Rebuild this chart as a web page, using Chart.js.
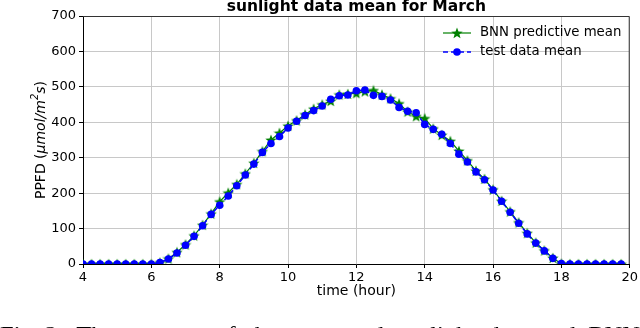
<!DOCTYPE html>
<html>
<head>
<meta charset="utf-8">
<script src="https://cdn.jsdelivr.net/npm/chart.js@4/dist/chart.umd.min.js"></script>
<style>
  html, body { margin: 0; padding: 0; background: #fff; }
  #wrap { width: 640px; height: 328px; position: relative; }
</style>
</head>
<body>
<div id="wrap"><canvas id="canvas" width="640" height="328"></canvas></div>
<script>
// time of day in hours, one sample every 15 minutes
const hours = [
  4.0, 4.25, 4.5, 4.75, 5.0, 5.25, 5.5, 5.75,
  6.0, 6.25, 6.5, 6.75, 7.0, 7.25, 7.5, 7.75,
  8.0, 8.25, 8.5, 8.75, 9.0, 9.25, 9.5, 9.75,
  10.0, 10.25, 10.5, 10.75, 11.0, 11.25, 11.5, 11.75,
  12.0, 12.25, 12.5, 12.75, 13.0, 13.25, 13.5, 13.75,
  14.0, 14.25, 14.5, 14.75, 15.0, 15.25, 15.5, 15.75,
  16.0, 16.25, 16.5, 16.75, 17.0, 17.25, 17.5, 17.75,
  18.0, 18.25, 18.5, 18.75, 19.0, 19.25, 19.5, 19.75
];

const bnnMean = [
  0, 0, 0, 0, 0, 0, 0, 0,
  0, 4, 15, 33, 55, 80, 110, 142,
  176, 201, 225, 255, 285, 318, 350, 370,
  390, 405, 422, 438, 450, 460, 478, 480,
  482, 487, 490, 478, 467, 453, 430, 417,
  411, 382, 364, 347, 319, 292, 263, 240,
  210, 178, 148, 117, 87, 60, 38, 17,
  1, 0, 0, 0, 0, 0, 0, 0
];

const testMean = [
  0, 0, 0, 0, 0, 0, 0, 0,
  0, 4, 14, 31, 53, 78, 108, 140,
  166, 192, 221, 251, 282, 315, 340, 360,
  384, 403, 419, 433, 446, 465, 475, 477,
  489, 491, 476, 473, 463, 442, 431, 427,
  394, 380, 366, 340, 310, 288, 260, 238,
  209, 177, 146, 115, 85, 59, 37, 16,
  1, 0, 0, 0, 0, 0, 0, 0
];

const xTicks = [4, 6, 8, 10, 12, 14, 16, 18, 20];
const yTicks = [0, 100, 200, 300, 400, 500, 600, 700];

const FONT = "'DejaVu Sans', sans-serif";
const GREEN = '#008000';
const BLUE = '#0000ff';

// filled five point star like matplotlib's '*' marker
function makeStar(size, color) {
  const c = document.createElement('canvas');
  c.width = size; c.height = size;
  const g = c.getContext('2d');
  const cx = size / 2, cy = size / 2 + 0.5;
  const R = size / 2, r = R * 0.42;
  g.beginPath();
  for (let i = 0; i < 10; i++) {
    const rad = i % 2 === 0 ? R : r;
    const a = -Math.PI / 2 + i * Math.PI / 5;
    const px = cx + rad * Math.cos(a), py = cy + rad * Math.sin(a);
    if (i === 0) g.moveTo(px, py); else g.lineTo(px, py);
  }
  g.closePath();
  g.fillStyle = color;
  g.fill();
  return c;
}
const star = makeStar(12, GREEN);

const toPoints = (vals) => vals.map((v, i) => ({ x: hours[i], y: v }));

const extras = {
  id: 'extras',
  afterDraw(chart) {
    const ctx = chart.ctx;
    const a = chart.chartArea;
    const mid = (a.left + a.right) / 2;
    ctx.save();

    // top / right frame
    ctx.strokeStyle = '#333';
    ctx.lineWidth = 1;
    ctx.beginPath();
    ctx.moveTo(a.left, a.top + 0.5);
    ctx.lineTo(a.right - 0.5, a.top + 0.5);
    ctx.lineTo(a.right - 0.5, a.bottom);
    ctx.stroke();

    // title
    ctx.fillStyle = '#000';
    ctx.font = "bold 15.5px " + FONT;
    ctx.textAlign = 'center';
    ctx.textBaseline = 'alphabetic';
    ctx.fillText('sunlight data mean for March', mid, 11);

    // x axis title
    ctx.font = "14px " + FONT;
    ctx.textBaseline = 'middle';
    ctx.fillText('time (hour)', mid, 291);

    // y axis title with italic unit and superscript
    ctx.save();
    ctx.translate(41, (a.top + a.bottom) / 2);
    ctx.rotate(-Math.PI / 2);
    const parts = [
      { t: 'PPFD (', f: "14px " + FONT, dy: 0 },
      { t: 'μmol/m', f: "italic 14px " + FONT, dy: 0 },
      { t: '2', f: "italic 10px " + FONT, dy: -6 },
      { t: 's', f: "italic 14px " + FONT, dy: 0 },
      { t: ')', f: "14px " + FONT, dy: 0 }
    ];
    let total = 0;
    parts.forEach(p => { ctx.font = p.f; p.w = ctx.measureText(p.t).width; total += p.w; });
    let px = -total / 2;
    ctx.textAlign = 'left';
    ctx.textBaseline = 'middle';
    parts.forEach(p => { ctx.font = p.f; ctx.fillText(p.t, px, p.dy); px += p.w; });
    ctx.restore();

    // legend in upper right
    const rows = [
      { ds: chart.data.datasets[0], y: 33 },
      { ds: chart.data.datasets[1], y: 52 }
    ];
    rows.forEach(r => {
      ctx.strokeStyle = r.ds.borderColor;
      ctx.lineWidth = r.ds.borderWidth;
      ctx.setLineDash(r.ds.borderDash || []);
      ctx.beginPath();
      ctx.moveTo(443, r.y);
      ctx.lineTo(471, r.y);
      ctx.stroke();
      ctx.setLineDash([]);
      if (r.ds.pointStyle === 'circle') {
        ctx.fillStyle = r.ds.pointBackgroundColor;
        ctx.beginPath();
        ctx.arc(457, r.y, 3.8, 0, Math.PI * 2);
        ctx.fill();
      } else {
        ctx.drawImage(r.ds.pointStyle, 457 - 6, r.y - 6);
      }
      ctx.fillStyle = '#000';
      ctx.font = "13.3px " + FONT;
      ctx.textAlign = 'left';
      ctx.textBaseline = 'middle';
      ctx.fillText(r.ds.label, 480, r.y);
    });

    // figure caption, cut by the bottom edge
    ctx.font = "20px 'Liberation Serif', serif";
    ctx.textAlign = 'left';
    ctx.textBaseline = 'alphabetic';
    const cap = 'Fig. 2:  The  average  of  the  measured  sunlight  data  and  BNN';
    const w = ctx.measureText(cap).width;
    ctx.save();
    ctx.translate(0, 340.5);
    ctx.scale(640 / w, 1);
    ctx.fillText(cap, 0, 0);
    ctx.restore();

    ctx.restore();
  }
};

new Chart(document.getElementById('canvas'), {
  type: 'line',
  data: {
    datasets: [
      {
        label: 'BNN predictive mean',
        data: toPoints(bnnMean),
        borderColor: GREEN,
        borderWidth: 1.2,
        pointStyle: star,
        pointRadius: 6,
        pointBackgroundColor: GREEN,
        pointBorderColor: GREEN,
        order: 2,
        tension: 0
      },
      {
        label: 'test data mean',
        data: toPoints(testMean),
        borderColor: BLUE,
        borderWidth: 1.5,
        borderDash: [5, 3],
        pointStyle: 'circle',
        pointRadius: 3.8,
        pointBorderWidth: 0,
        pointBackgroundColor: BLUE,
        pointBorderColor: BLUE,
        order: 1,
        tension: 0
      }
    ]
  },
  options: {
    responsive: false,
    animation: false,
    layout: { padding: { top: 16, right: 8, left: 0, bottom: 0 } },
    plugins: {
      legend: { display: false },
      title: { display: false },
      tooltip: { enabled: false }
    },
    scales: {
      x: {
        type: 'linear',
        min: 4,
        max: 20,
        afterBuildTicks(scale) { scale.ticks = xTicks.map(v => ({ value: v })); },
        afterFit(scale) { scale.height = 64; },
        ticks: { color: '#000', font: { family: FONT, size: 13 }, padding: 2, maxRotation: 0 },
        grid: { color: '#c8c8c8', lineWidth: 1, tickLength: 4, tickColor: '#000' },
        border: { color: '#000', width: 1 }
      },
      y: {
        min: 0,
        max: 700,
        afterBuildTicks(scale) { scale.ticks = yTicks.map(v => ({ value: v })); },
        afterFit(scale) { scale.width = 83; },
        ticks: { color: '#000', font: { family: FONT, size: 13 }, padding: 3 },
        grid: { color: '#c8c8c8', lineWidth: 1, tickLength: 4, tickColor: '#000' },
        border: { color: '#000', width: 1 }
      }
    }
  },
  plugins: [extras]
});
</script>
</body>
</html>
